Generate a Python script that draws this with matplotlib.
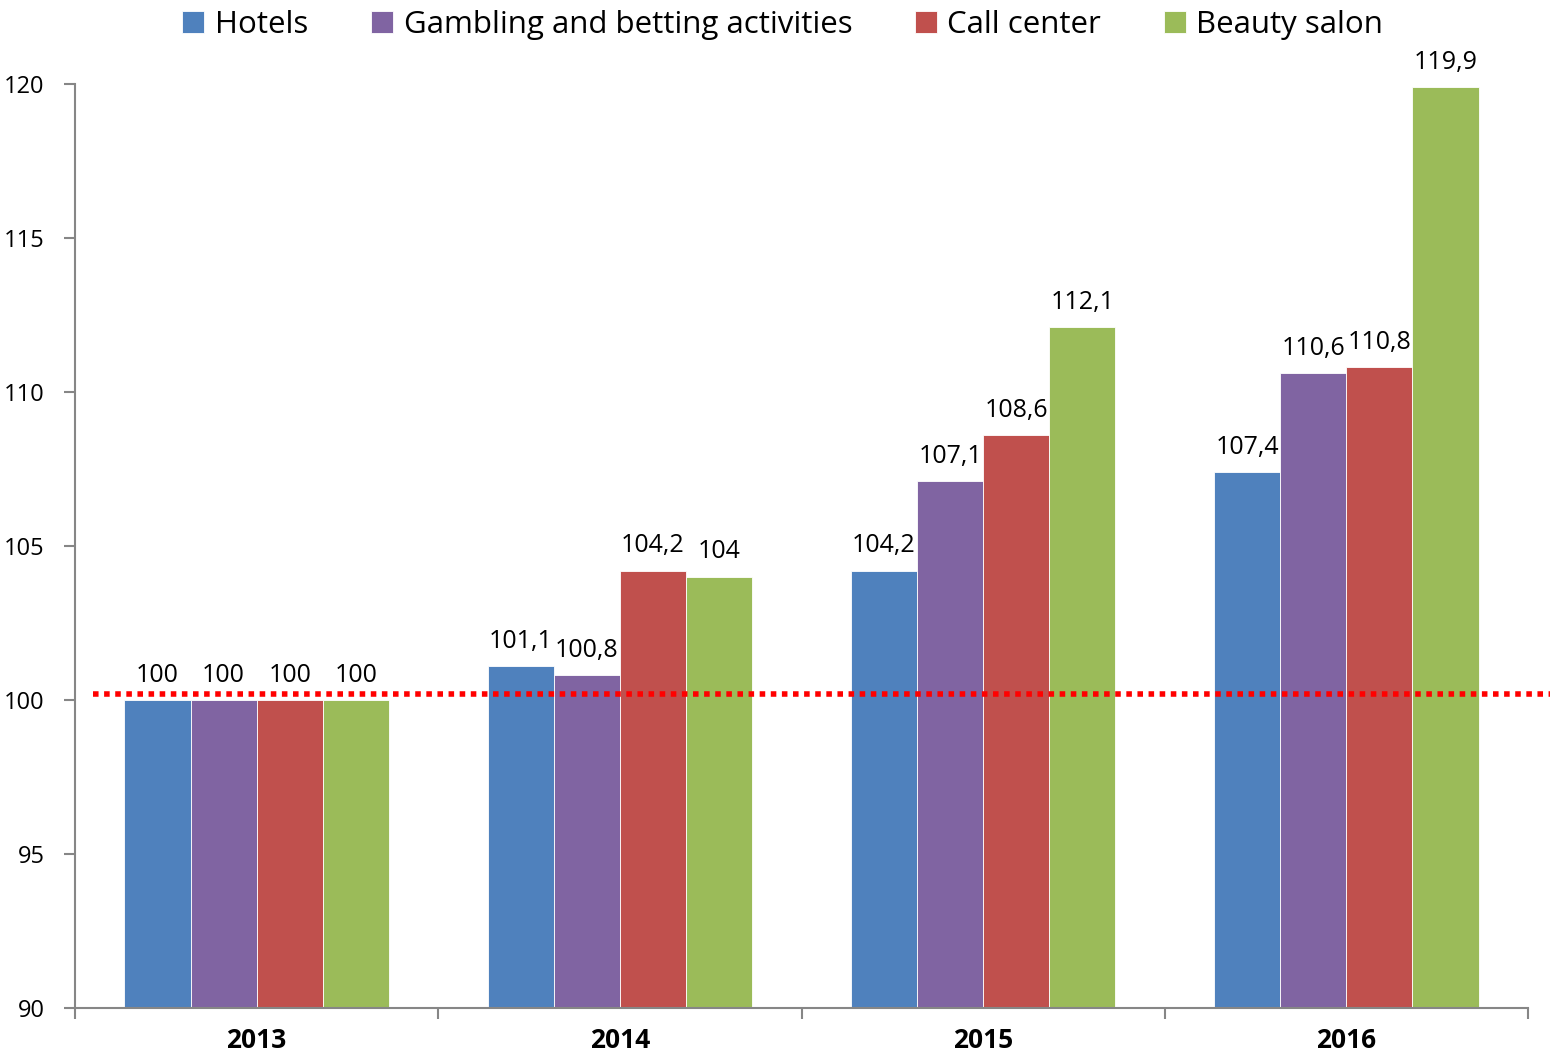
import matplotlib
matplotlib.use("Agg")
import matplotlib.pyplot as plt
import numpy as np

plt.rcParams["font.family"] = ["Open Sans", "DejaVu Sans"]

years = ["2013", "2014", "2015", "2016"]
series = ["Hotels", "Gambling and betting activities", "Call center", "Beauty salon"]
hotels = [100, 101.1, 104.2, 107.4]
gambling = [100, 100.8, 107.1, 110.6]
call_center = [100, 104.2, 108.6, 110.8]
beauty = [100, 104, 112.1, 119.9]
baseline = 100.2

colors = ["#4F81BD", "#8064A2", "#C0504D", "#9BBB59"]
values = [hotels, gambling, call_center, beauty]

fig = plt.figure(figsize=(15.5, 10.59), dpi=100)
ax = fig.add_axes([0.0484, 0.0482, 0.9374, 0.8725])

x = np.arange(len(years))
w = 0.182
for i, (name, vals, c) in enumerate(zip(series, values, colors)):
    pos = x + (i - 1.5) * w
    ax.bar(pos, np.array(vals) - 90, w, bottom=90, color=c,
           edgecolor="white", linewidth=0.6, label=name, zorder=2)
    for p, v in zip(pos, vals):
        txt = f"{v:g}".replace(".", ",")
        ax.text(p, v + 0.4, txt, ha="center", va="bottom", fontsize=18, zorder=4)

# dotted reference line, runs past the right axis edge
ax.plot([-0.45, 3.62], [baseline, baseline], color="#FF0000", lw=4,
        ls=(0, (1, 1)), clip_on=False, zorder=3)

ax.set_xlim(-0.5, 3.5)
ax.set_ylim(90, 120)
ax.set_yticks([90, 95, 100, 105, 110, 115, 120])
ax.set_xticks(x)
ax.set_xticklabels(years, fontweight="bold", fontsize=19)
ax.set_xticks([-0.5, 0.5, 1.5, 2.5, 3.5], minor=True)
ax.tick_params(axis="x", which="major", length=0, pad=14)
ax.tick_params(axis="x", which="minor", length=8, color="#868686", width=1.5)
ax.tick_params(axis="y", length=8, color="#868686", width=1.5, labelsize=17, pad=14)

for s in ["top", "right"]:
    ax.spines[s].set_visible(False)
for s in ["left", "bottom"]:
    ax.spines[s].set_color("#868686")
    ax.spines[s].set_linewidth(1.5)

fig.legend(loc="upper center", bbox_to_anchor=(0.505, 1.017), ncol=4, frameon=False,
           fontsize=22.5, handlelength=0.7, handleheight=0.7, handletextpad=0.35,
           columnspacing=2.0)

fig.savefig("out.png", dpi=100)
